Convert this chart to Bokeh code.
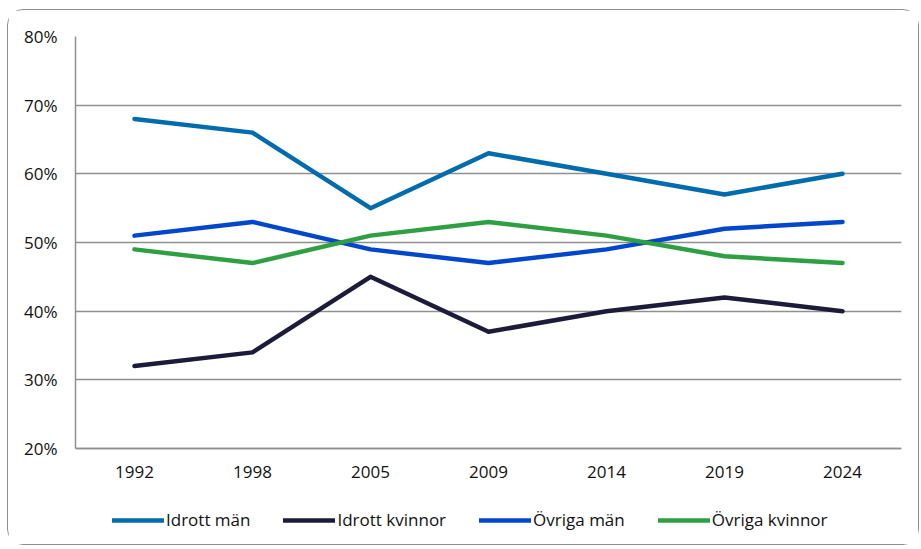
from bokeh.plotting import figure
from bokeh.models import Range1d, FactorRange, PrintfTickFormatter, FixedTicker, Legend, LegendItem
from bokeh.embed import file_html
from bokeh.resources import INLINE

years = ["1992", "1998", "2005", "2009", "2014", "2019", "2024"]
idrott_man = [68, 66, 55, 63, 60, 57, 60]
idrott_kvinnor = [32, 34, 45, 37, 40, 42, 40]
ovriga_man = [51, 53, 49, 47, 49, 52, 53]
ovriga_kvinnor = [49, 47, 51, 53, 51, 48, 47]
y_ticks = [20, 30, 40, 50, 60, 70, 80]

series = [
    ("Idrott män", idrott_man, "#006CAE"),
    ("Idrott kvinnor", idrott_kvinnor, "#1C1C3A"),
    ("Övriga män", ovriga_man, "#0047CC"),
    ("Övriga kvinnor", ovriga_kvinnor, "#2EA043"),
]

FONT = "Open Sans"
GRAY = "#8f8f8f"

# layout: 412 px for the 20-80 % band, the frame continues below it to hold the legend
BAND_PX = 412
FRAME_H = 508
y_lo, y_hi = y_ticks[0], y_ticks[-1]
y_start = y_hi - (y_hi - y_lo) * FRAME_H / BAND_PX

p = figure(frame_width=826, frame_height=FRAME_H, x_range=FactorRange(*years, range_padding=0),
           y_range=Range1d(y_start, y_hi), output_backend="svg", toolbar_location=None,
           min_border_left=67, min_border_right=17, min_border_top=26, min_border_bottom=0)
p.margin = (9, 0, 0, 7)
p.styles = {"border": "1.5px solid #8c8c8c", "border-radius": "16px"}
p.outline_line_color = None
p.background_fill_color = "white"
p.border_fill_color = "white"

p.xgrid.grid_line_color = None
p.ygrid.grid_line_color = GRAY
p.ygrid.grid_line_width = 1.5
p.yaxis.ticker = FixedTicker(ticks=y_ticks)
p.yaxis.formatter = PrintfTickFormatter(format="%d%%")
p.yaxis.bounds = (y_lo, y_hi)
p.xaxis.fixed_location = y_lo

for ax in (p.xaxis, p.yaxis):
    ax.axis_line_color = GRAY
    ax.axis_line_width = 1.5
    ax.major_tick_line_color = None
    ax.minor_tick_line_color = None
    ax.major_label_text_font = FONT
    ax.major_label_text_font_size = "17px"
    ax.major_label_text_color = "#111111"
p.xaxis.major_label_standoff = 11
p.yaxis.major_label_standoff = 12

items = []
for name, vals, color in series:
    r = p.line(years, vals, line_color=color, line_width=4.5, line_cap="round", line_join="round")
    items.append(LegendItem(label=name, renderers=[r]))

legend = Legend(items=items, orientation="horizontal", location=(37, 13),
                glyph_width=52, glyph_height=20, label_standoff=2, spacing=33,
                label_text_font=FONT, label_text_font_size="17px", label_text_color="#111111",
                border_line_color=None, background_fill_alpha=0, padding=0, margin=0)
p.add_layout(legend, "center")

open("out.html", "w").write(file_html(p, INLINE))
